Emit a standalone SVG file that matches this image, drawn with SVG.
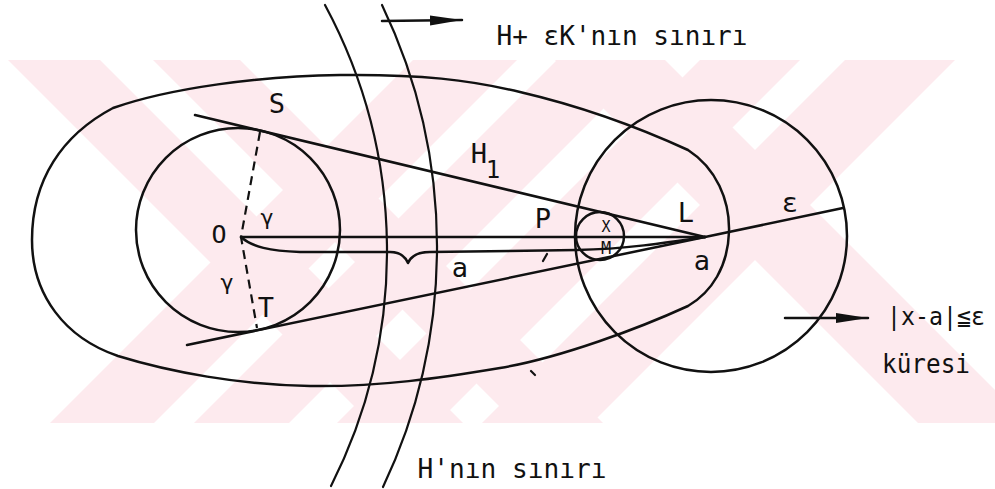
<svg xmlns="http://www.w3.org/2000/svg" width="995" height="489" viewBox="0 0 995 489">
<defs>
<style>
.ln{fill:none;stroke:#111;stroke-width:2.5;stroke-linecap:round;stroke-linejoin:round}
.th{stroke-width:2.2}
.dash{fill:none;stroke:#111;stroke-width:2.2;stroke-dasharray:9 6}
.t{font-family:"DejaVu Sans Mono","Liberation Mono",monospace;fill:#111;font-size:27px;text-anchor:middle}
.wm{fill:#fdeaee}
</style>
<clipPath id="band"><rect x="0" y="60" width="995" height="363"/></clipPath>
<marker id="arr" markerUnits="userSpaceOnUse" markerWidth="34" markerHeight="14" refX="32" refY="7" orient="auto">
<path d="M0,2 L32,7 L0,12 Z" fill="#111"/>
</marker>
</defs>
<rect width="995" height="489" fill="#fff"/>
<g id="watermark" clip-path="url(#band)">
<polygon class="wm" points="8,60 100,60 463,423 371,423"/>
<polygon class="wm" points="153,60 240,60 603,423 516,423"/>
<polygon class="wm" points="413,60 517,60 154,423 50,423"/>
<polygon class="wm" points="557,60 652,60 289,423 194,423"/>
<polygon class="wm" points="700,60 800,60 437,423 337,423"/>
<polygon class="wm" points="555,60 665,60 1028,423 918,423"/>
<polygon class="wm" points="845,60 955,60 592,423 482,423"/>
</g>
<g id="H-boundary">
<path class="ln th" d="M325,5 A520,520 0 0 1 331,486"/>
</g>
<g id="H-eps-K-boundary">
<path class="ln th" d="M382,5 A560,560 0 0 1 383,487"/>
</g>
<g id="region-H1">
<path class="ln" d="M32,240 C32,180 62,135 113,108 C170,88 260,76 340,75 C420,74 470,80 520,92 C580,106 640,128 688,150 C716,168 730,200 729,232 C728,266 712,292 688,306 C640,328 560,358 500,368 C440,378 380,387 310,386 C240,385 170,372 118,356 C65,338 32,295 32,240 Z"/>
</g>
<g id="circle-O">
<circle class="ln" cx="238" cy="230" r="102"/>
</g>
<g id="ball-a">
<circle class="ln" cx="711" cy="236" r="136"/>
</g>
<g id="circle-x">
<circle class="ln" cx="600" cy="236" r="24"/>
</g>
<g id="connectors">
<path class="ln" d="M195,115 L705,237"/>
<path class="ln" d="M187,345 L705,237"/>
<path class="ln" d="M241,237 L705,237"/>
<path class="ln" d="M705,237 L843,208"/>
<path class="dash" d="M260,132 L241,237 L257,328"/>
<path class="ln" d="M241,237 C252,247 270,251 300,252 L390,252 C400,252 405,256 408,263 C411,256 417,252 430,252 L577,250 C625,249 665,243 705,237"/>
<path class="ln" d="M382,21 L462,20" marker-end="url(#arr)"/>
<path class="ln" d="M785,318 L868,318" marker-end="url(#arr)"/>
<path class="ln th" d="M543,261 L547,254"/>
<path class="ln th" d="M531,371 L535,375"/>
</g>
<g id="labels">
<text class="t" x="277" y="113">S</text>
<text class="t" x="219" y="243" style="font-size:25px">O</text>
<text class="t" x="267" y="225" style="font-size:22px">γ</text>
<text class="t" x="227" y="290" style="font-size:22px">γ</text>
<text class="t" x="266" y="317">T</text>
<text class="t" x="460" y="277">a</text>
<text class="t" x="543" y="228">P</text>
<text class="t" x="479" y="163">H</text>
<text class="t" x="493" y="178" style="font-size:24px">1</text>
<text class="t" x="686" y="222">L</text>
<text class="t" x="702" y="270">a</text>
<text class="t" x="790" y="212">ε</text>
<text class="t" x="606" y="232" style="font-size:15px">X</text>
<text class="t" x="606" y="254" style="font-size:17px">M</text>
<text class="t" x="622" y="45" textLength="251" lengthAdjust="spacingAndGlyphs">H+ εK'nın sınırı</text>
<text class="t" x="512" y="478" textLength="189" lengthAdjust="spacingAndGlyphs">H'nın sınırı</text>
<text class="t" x="936" y="325" textLength="98" lengthAdjust="spacingAndGlyphs" style="font-size:25px">|x-a|≦ε</text>
<text class="t" x="926" y="373" textLength="88" lengthAdjust="spacingAndGlyphs" style="font-size:26px">küresi</text>
</g>
</svg>
